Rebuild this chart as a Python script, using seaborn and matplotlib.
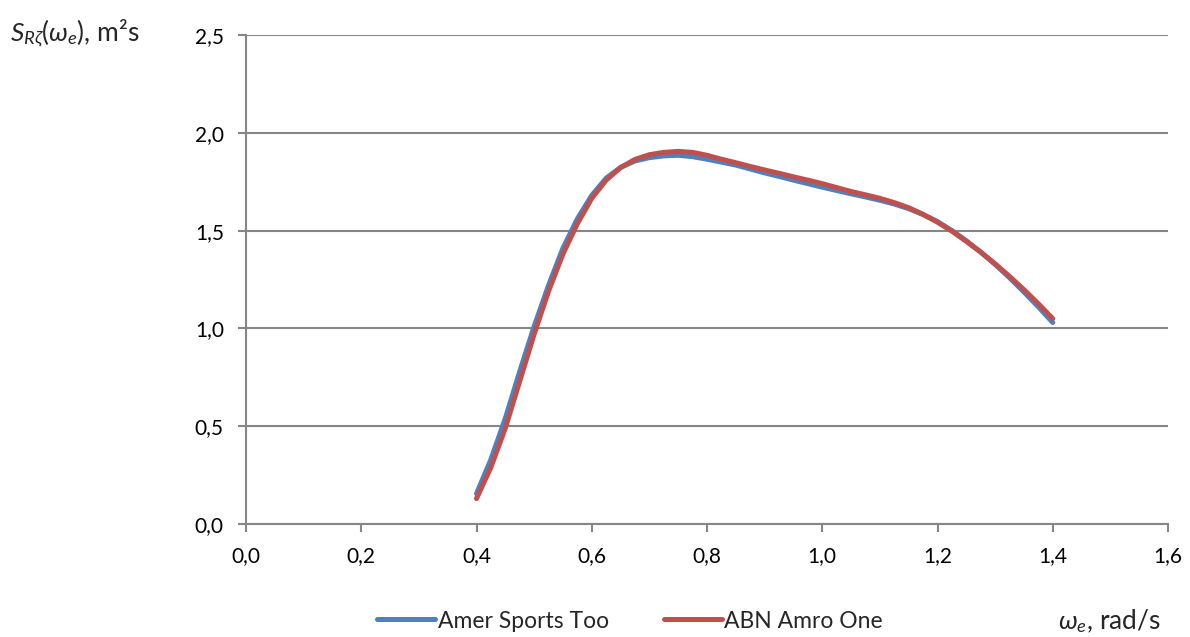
import matplotlib
matplotlib.use("Agg")
import matplotlib.pyplot as plt
import seaborn as sns
import pandas as pd
from matplotlib.lines import Line2D

# ---- data ----
omega = [0.400, 0.425, 0.450, 0.475, 0.500, 0.525, 0.550, 0.575, 0.600, 0.625,
         0.650, 0.675, 0.700, 0.725, 0.750, 0.775, 0.800, 0.825, 0.850, 0.875,
         0.900, 0.925, 0.950, 0.975, 1.000, 1.025, 1.050, 1.075, 1.100, 1.125,
         1.150, 1.175, 1.200, 1.225, 1.250, 1.275, 1.300, 1.325, 1.350, 1.375,
         1.400]
amer_sports_too = [0.155, 0.33, 0.54, 0.78, 1.01, 1.22, 1.41, 1.56, 1.68, 1.768,
                   1.823, 1.856, 1.873, 1.882, 1.885, 1.878, 1.865, 1.85, 1.835, 1.815,
                   1.795, 1.777, 1.758, 1.74, 1.722, 1.705, 1.688, 1.672, 1.655, 1.636,
                   1.612, 1.582, 1.546, 1.50, 1.448, 1.39, 1.327, 1.259, 1.186, 1.11,
                   1.03]
abn_amro_one = [0.13, 0.29, 0.49, 0.73, 0.97, 1.19, 1.38, 1.535, 1.665, 1.758,
                1.822, 1.864, 1.888, 1.90, 1.905, 1.90, 1.885, 1.865, 1.847, 1.828,
                1.81, 1.793, 1.775, 1.758, 1.74, 1.72, 1.70, 1.683, 1.665, 1.643,
                1.617, 1.583, 1.543, 1.497, 1.445, 1.39, 1.33, 1.266, 1.198, 1.126,
                1.05]
series_names = ["Amer Sports Too", "ABN Amro One"]
x_ticks = [0.0, 0.2, 0.4, 0.6, 0.8, 1.0, 1.2, 1.4, 1.6]
x_tick_labels = ["0,0", "0,2", "0,4", "0,6", "0,8", "1,0", "1,2", "1,4", "1,6"]
y_ticks = [0.0, 0.5, 1.0, 1.5, 2.0, 2.5]
y_tick_labels = ["0,0", "0,5", "1,0", "1,5", "2,0", "2,5"]

df = pd.DataFrame({
    "omega": omega * 2,
    "S": amer_sports_too + abn_amro_one,
    "series": [series_names[0]] * len(omega) + [series_names[1]] * len(omega),
})

sns.set_theme(style="white")
plt.rcParams["font.family"] = ["Lato", "DejaVu Sans"]
plt.rcParams["mathtext.fontset"] = "custom"
plt.rcParams["mathtext.rm"] = "Lato"
plt.rcParams["mathtext.it"] = "Lato:italic"

fig = plt.figure(figsize=(11.9, 6.37), dpi=100)
ax = fig.add_axes([246 / 1190, 1 - 524 / 637, (1168 - 246) / 1190, (524 - 35) / 637])

palette = {series_names[0]: "#4F81BD", series_names[1]: "#C0504D"}
sns.lineplot(data=df, x="omega", y="S", hue="series", palette=palette,
             linewidth=3.6, ax=ax, legend=False, sort=False,
             solid_capstyle="round", solid_joinstyle="round")

ax.set_xlim(0, 1.6)
ax.set_ylim(0, 2.5)
ax.set_xticks(x_ticks)
ax.set_xticklabels(x_tick_labels)
ax.set_yticks(y_ticks)
ax.set_yticklabels(y_tick_labels)
ax.tick_params(axis="both", which="major", labelsize=15, colors="#868686",
               labelcolor="black", length=6, width=1.5, direction="out")
ax.tick_params(axis="x", pad=10)
ax.tick_params(axis="y", pad=10)
ax.xaxis.set_ticks_position("bottom")
ax.yaxis.set_ticks_position("left")
ax.grid(axis="y", color="#868686", linewidth=1.5)
ax.grid(axis="x", visible=False)
ax.set_axisbelow(True)
for s in ["top", "right"]:
    ax.spines[s].set_visible(False)
for s in ["left", "bottom"]:
    ax.spines[s].set_color("#868686")
    ax.spines[s].set_linewidth(1.5)
ax.set_xlabel("")
ax.set_ylabel("")

fig.text(10 / 1190, 1 - 33 / 637, r"$\mathit{S}_{\mathit{R\zeta}}\mathit{(\omega_{e})}$, m²s",
         fontsize=19, ha="left", va="center")
fig.text(1058 / 1190, 1 - 621 / 637, r"$\omega_{e}$, rad/s",
         fontsize=19, ha="left", va="center")

handles = [Line2D([0], [0], color=palette[n], linewidth=3.6, solid_capstyle="round")
           for n in series_names]
fig.legend(handles, series_names, loc="center", bbox_to_anchor=(630 / 1190, 1 - 621 / 637),
           ncol=2, frameon=False, fontsize=16.5, handlelength=2.55, handletextpad=0.1,
           columnspacing=2.4)

fig.savefig("out.png", dpi=100)
